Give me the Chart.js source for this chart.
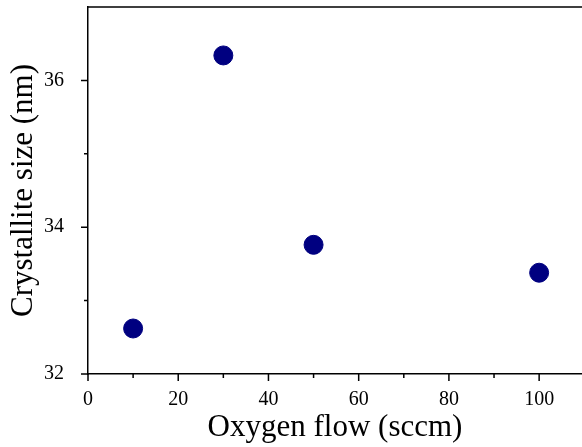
<!DOCTYPE html>
<html lang="en">
<head>
    <meta charset="UTF-8">
    <title>Crystallite size vs oxygen flow</title>
    <script src="https://cdn.jsdelivr.net/npm/chart.js"></script>
    <style>
        html, body { margin: 0; padding: 0; background: #fff; }
        #wrap { width: 582px; height: 447px; }
    </style>
</head>
<body>
    <div id="wrap"><canvas id="sizeChart" width="582" height="447"></canvas></div>

    <script>
        // data
        const oxygenFlow = [10, 30, 50, 100];          // sccm
        const crystalliteSize = [32.62, 36.34, 33.76, 33.38]; // nm

        const xMajorTicks = [0, 20, 40, 60, 80, 100];
        const xMinorTicks = [10, 30, 50, 70, 90];
        const yMajorTicks = [32, 34, 36];
        const yMinorTicks = [33, 35];

        const serif = 'Liberation Serif';

        // draws outward tick marks and the top frame line
        const frameTicks = {
            id: 'frameTicks',
            afterDraw(chart) {
                const ctx = chart.ctx;
                const area = chart.chartArea;
                const xs = chart.scales.x, ys = chart.scales.y;
                ctx.save();
                ctx.strokeStyle = '#000';
                ctx.lineWidth = 1.5;
                ctx.beginPath();
                ctx.moveTo(area.left, area.top);
                ctx.lineTo(area.right, area.top);
                xMajorTicks.forEach(v => {
                    const p = xs.getPixelForValue(v);
                    ctx.moveTo(p, area.bottom); ctx.lineTo(p, area.bottom + 7);
                });
                xMinorTicks.forEach(v => {
                    const p = xs.getPixelForValue(v);
                    ctx.moveTo(p, area.bottom); ctx.lineTo(p, area.bottom + 4);
                });
                yMajorTicks.forEach(v => {
                    const p = ys.getPixelForValue(v);
                    ctx.moveTo(area.left, p); ctx.lineTo(area.left - 7, p);
                });
                yMinorTicks.forEach(v => {
                    const p = ys.getPixelForValue(v);
                    ctx.moveTo(area.left, p); ctx.lineTo(area.left - 4, p);
                });
                ctx.stroke();
                ctx.restore();
            }
        };

        const noPad = s => {
            s.paddingTop = 0; s.paddingBottom = 0;
            s.paddingLeft = 0; s.paddingRight = 0;
        };

        const ctx = document.getElementById('sizeChart').getContext('2d');
        new Chart(ctx, {
            type: 'scatter',
            data: {
                datasets: [{
                    data: oxygenFlow.map((x, i) => ({ x: x, y: crystalliteSize[i] })),
                    backgroundColor: '#000080',
                    borderColor: '#000080',
                    pointRadius: 9.5,
                    pointHoverRadius: 9.5
                }]
            },
            options: {
                responsive: false,
                animation: false,
                layout: { autoPadding: false, padding: { top: 7, right: 0, left: 0, bottom: 0 } },
                plugins: { legend: { display: false }, tooltip: { enabled: false } },
                scales: {
                    x: {
                        type: 'linear',
                        min: 0,
                        max: 109.5,
                        afterBuildTicks: s => { s.ticks = xMajorTicks.map(v => ({ value: v })); },
                        afterFit: s => { s.height = 73; noPad(s); },
                        grid: { display: false },
                        border: { display: true, color: '#000', width: 1.5 },
                        ticks: { color: '#000', font: { family: serif, size: 20 }, padding: 6, maxRotation: 0 },
                        title: {
                            display: true,
                            text: 'Oxygen flow (sccm)',
                            color: '#000',
                            font: { family: serif, size: 31 },
                            padding: { top: 0, bottom: 1 }
                        }
                    },
                    y: {
                        min: 32,
                        max: 37,
                        afterBuildTicks: s => { s.ticks = yMajorTicks.map(v => ({ value: v })); },
                        afterFit: s => { s.width = 88; noPad(s); },
                        grid: { display: false },
                        border: { display: true, color: '#000', width: 1.5 },
                        ticks: { color: '#000', font: { family: serif, size: 20 }, padding: 16 },
                        title: {
                            display: true,
                            text: 'Crystallite size (nm)',
                            color: '#000',
                            font: { family: serif, size: 31 },
                            padding: { top: 5, bottom: 0 }
                        }
                    }
                }
            },
            plugins: [frameTicks]
        });
    </script>
</body>
</html>
